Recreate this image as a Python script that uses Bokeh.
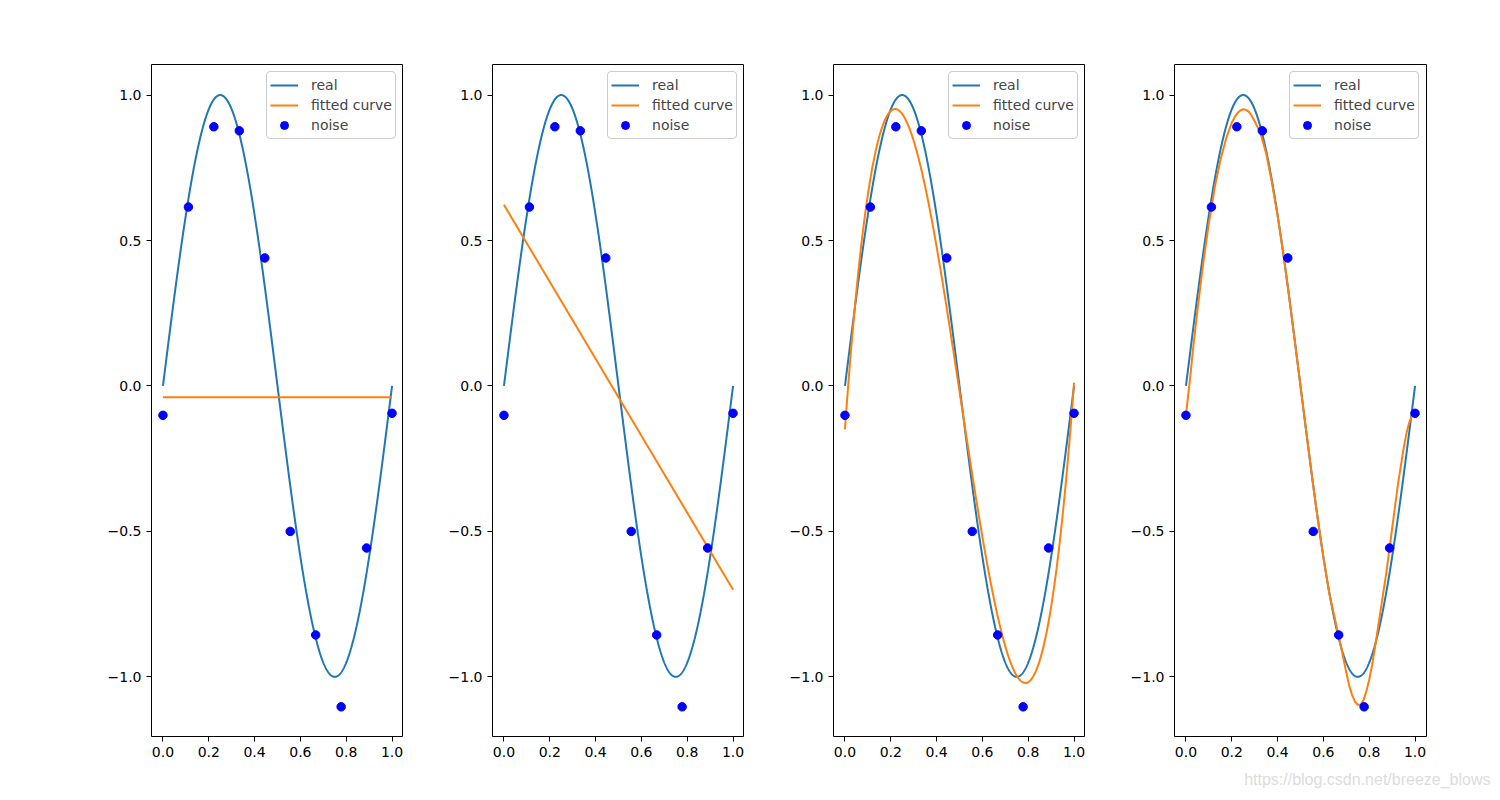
import numpy as np
from bokeh.plotting import figure
from bokeh.layouts import row
from bokeh.models import Range1d, FixedTicker, Legend, LegendItem, Title
from bokeh.embed import file_html
from bokeh.resources import INLINE

# data
x_noise = [0.0, 1/9, 2/9, 3/9, 4/9, 5/9, 6/9, 7/9, 8/9, 1.0]
y_noise = [-0.101, 0.615, 0.891, 0.877, 0.440, -0.500, -0.856, -1.103, -0.557, -0.094]
degrees = [0, 1, 3, 9]
# the order-9 curve
x_fit9 = [0.0, 0.01, 0.02, 0.03, 0.04, 0.05, 0.075, 0.10, 0.111, 0.125, 0.15,
          0.175, 0.20, 0.2125, 0.225, 0.2375, 0.25, 0.2625, 0.275, 0.2875,
          0.30, 0.325, 0.35, 0.375, 0.40, 0.425, 0.45, 0.475, 0.50, 0.525,
          0.55, 0.575, 0.60, 0.625, 0.65, 0.675, 0.70, 0.7125, 0.725, 0.7375,
          0.75, 0.7625, 0.775, 0.7875, 0.80, 0.8125, 0.825, 0.85, 0.875, 0.90,
          0.925, 0.95, 0.9625, 0.975, 0.9875, 1.0]
y_fit9 = [-0.10, -0.03, 0.04, 0.12, 0.19, 0.26, 0.42, 0.56, 0.61, 0.68, 0.775,
          0.85, 0.905, 0.924, 0.938, 0.947, 0.951, 0.949, 0.942, 0.928,
          0.91, 0.87, 0.80, 0.70, 0.585, 0.455, 0.31, 0.155, 0.0, -0.155,
          -0.31, -0.455, -0.59, -0.71, -0.80, -0.89, -0.985, -1.03, -1.062, -1.085,
          -1.096, -1.095, -1.08, -1.05, -1.01, -0.96, -0.90, -0.77, -0.64, -0.49,
          -0.34, -0.215, -0.163, -0.125, -0.10, -0.09]
x_ticks = [0.0, 0.2, 0.4, 0.6, 0.8, 1.0]
y_ticks = [-1.0, -0.5, 0.0, 0.5, 1.0]
watermark = "https://blog.csdn.net/breeze_blows"

x_dense = np.linspace(0, 1, 1000)
y_real = np.sin(2 * np.pi * x_dense)

FONT = "DejaVu Sans"
figs = []
for i, deg in enumerate(degrees):
    if deg < 9:
        coef = np.polyfit(x_noise, y_noise, deg)
        xf, yf = x_dense, np.polyval(coef, x_dense)
    else:
        xf, yf = x_fit9, y_fit9
    left = 151 if i == 0 else 89
    right = 66 if i == 3 else 0
    p = figure(width=left + 252 + right, height=800,
               x_range=Range1d(-0.05, 1.05), y_range=Range1d(-1.205, 1.105),
               output_backend="svg", toolbar_location=None,
               min_border_left=left, min_border_right=right,
               min_border_top=64, min_border_bottom=64)
    p.grid.visible = False
    p.outline_line_color = "black"
    p.outline_line_width = 1
    for ax in (p.xaxis[0], p.yaxis[0]):
        ax.axis_line_color = None
        ax.major_tick_out = 5
        ax.major_tick_in = 0
        ax.minor_tick_line_color = None
        ax.major_label_text_font = FONT
        ax.major_label_text_font_size = "14px"
        ax.major_label_text_color = "black"
        ax.major_label_standoff = 5
    p.xaxis.ticker = FixedTicker(ticks=x_ticks)
    p.yaxis.ticker = FixedTicker(ticks=y_ticks)
    p.xaxis.major_label_overrides = {t: f"{t:.1f}" for t in x_ticks}
    p.yaxis.major_label_overrides = {t: (f"{t:.1f}".replace("-", "\u2212")) for t in y_ticks}

    r_real = p.line(x_dense, y_real, line_color="#1f77b4", line_width=2)
    r_fit = p.line(xf, yf, line_color="#ff7f0e", line_width=2,
                   line_join="round")
    r_noise = p.scatter(x_noise, y_noise, size=8.5, fill_color="#0000ff",
                        line_color="#0000ff", marker="circle")

    legend = Legend(items=[LegendItem(label="real", renderers=[r_real]),
                           LegendItem(label="fitted curve", renderers=[r_fit]),
                           LegendItem(label="noise", renderers=[r_noise])],
                    location="top_right", margin=7, padding=3, spacing=0,
                    glyph_width=28, glyph_height=20, label_height=20,
                    label_standoff=13, label_text_font=FONT,
                    label_text_font_size="14px",
                    border_line_color="#cccccc", border_line_alpha=1,
                    border_radius=4,
                    background_fill_color="white", background_fill_alpha=0.8)
    p.add_layout(legend, "center")

    if i == 3:
        p.add_layout(Title(text=watermark, align="right", offset=-64,
                           text_font="Liberation Sans", text_font_size="16px",
                           text_font_style="normal", text_color="#dcdcdc",
                           standoff=19), "below")
    figs.append(p)

layout = row(*figs, spacing=0)
open("out.html", "w").write(file_html(layout, INLINE))
